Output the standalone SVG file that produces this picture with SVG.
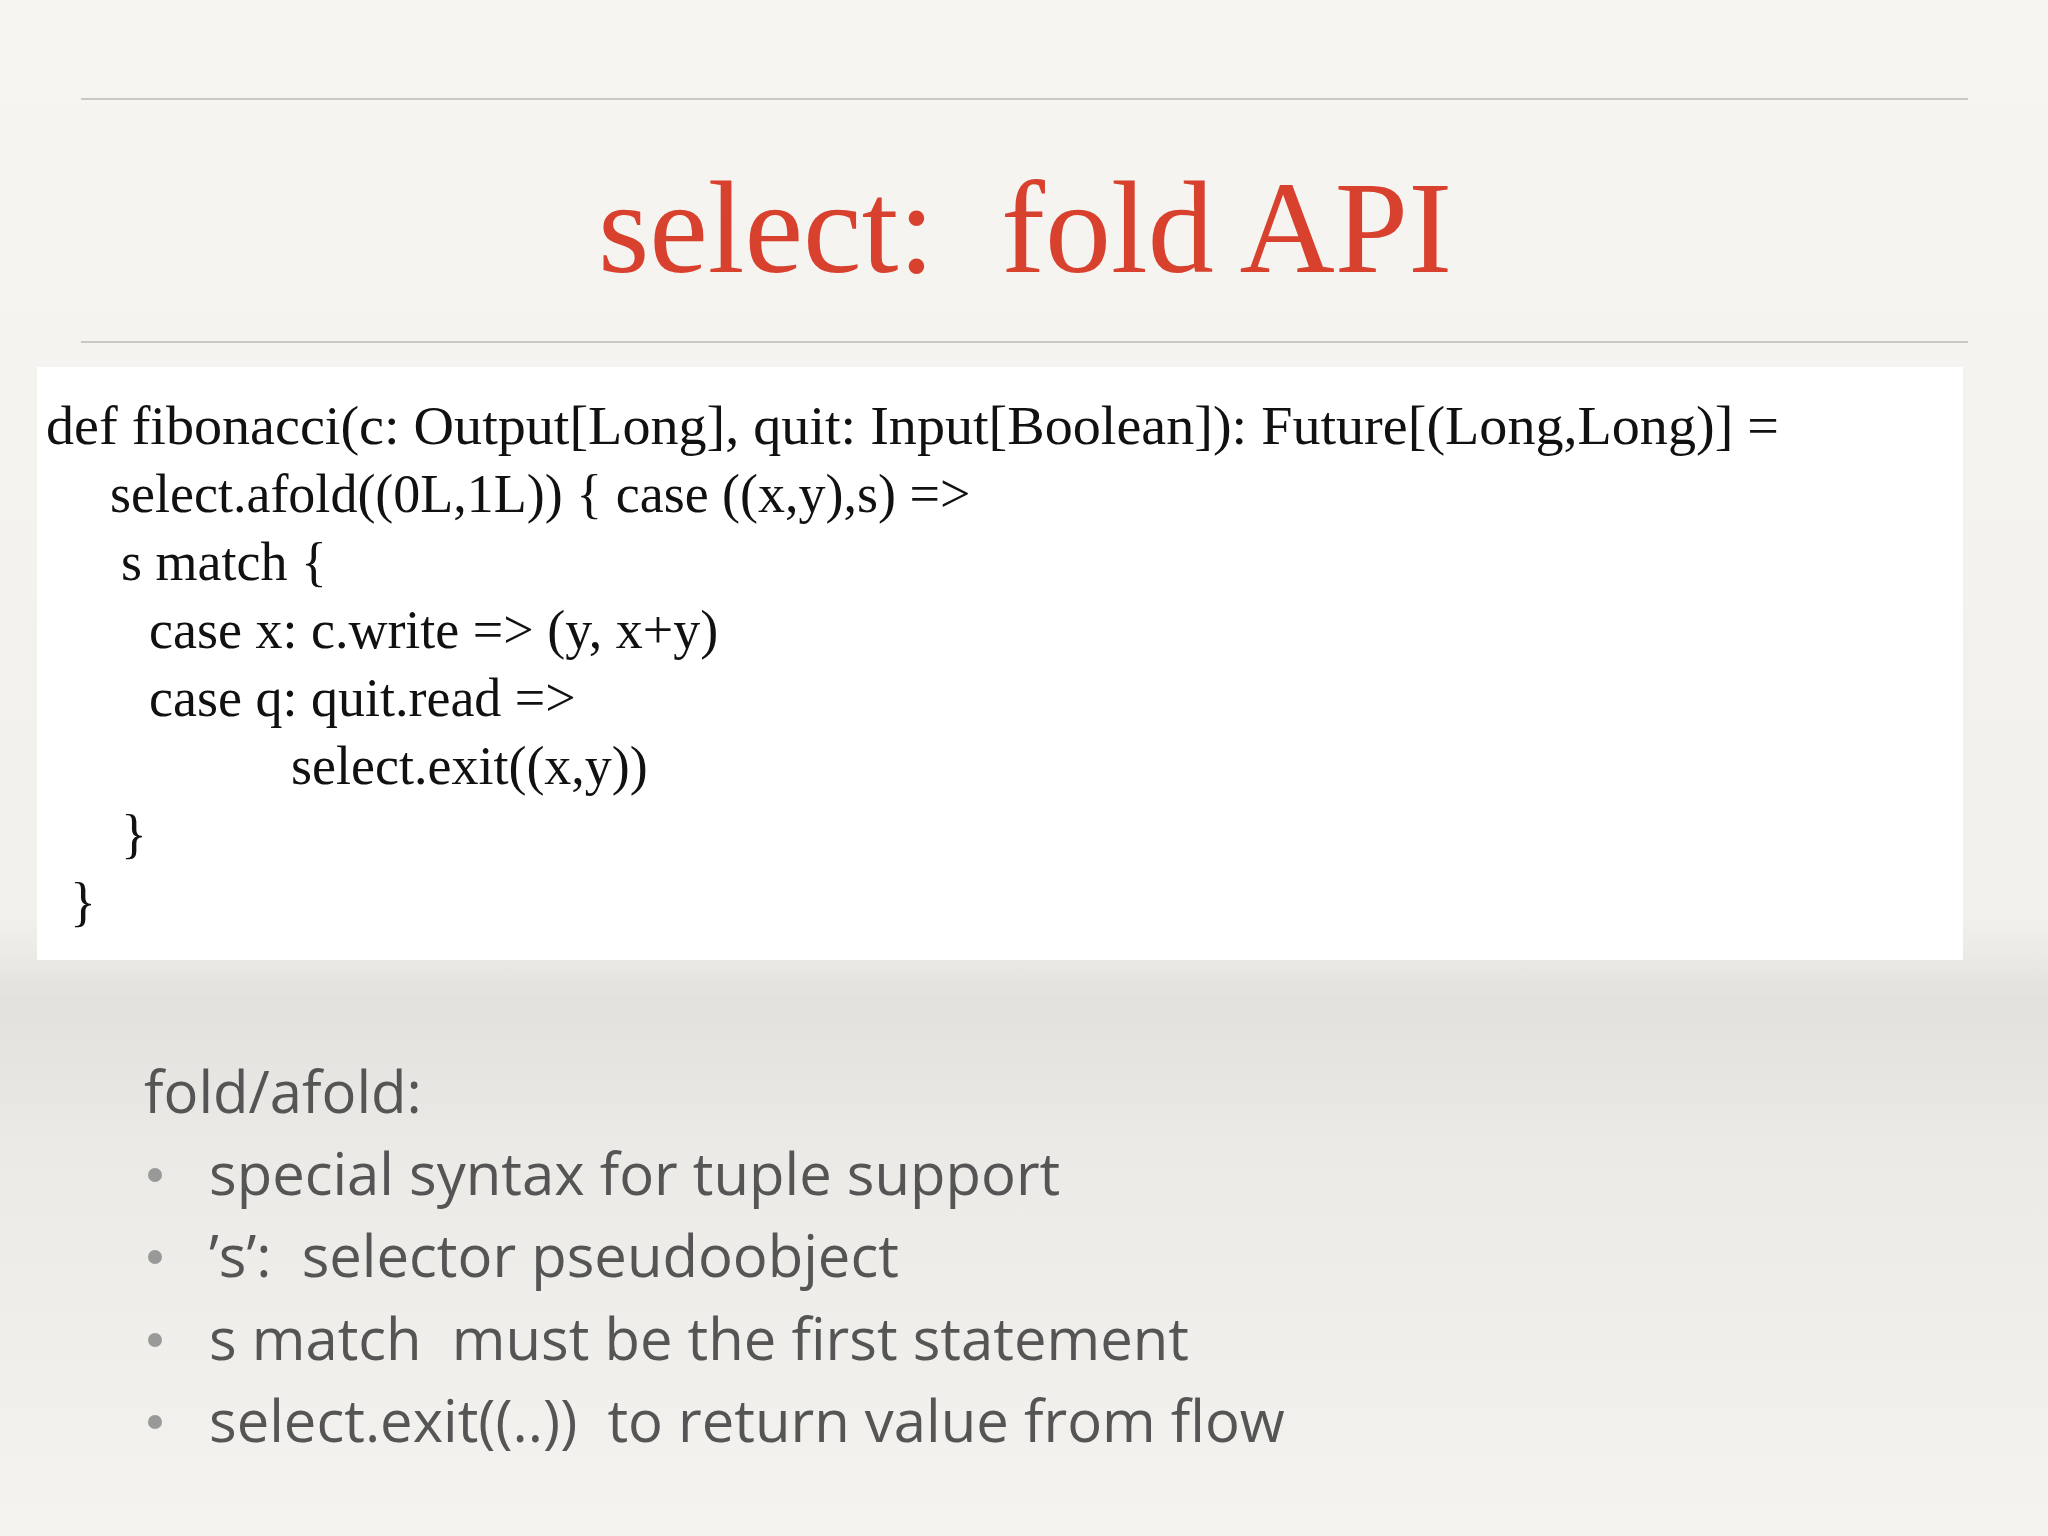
<svg xmlns="http://www.w3.org/2000/svg" width="2048" height="1536" viewBox="0 0 2048 1536">
<defs>
<linearGradient id="bg" x1="0" y1="0" x2="0" y2="1">
<stop offset="0" stop-color="#f6f5f1"/>
<stop offset="0.6" stop-color="#f1f0ec"/>
<stop offset="0.65" stop-color="#e2e1de"/>
<stop offset="0.75" stop-color="#ebeae6"/>
<stop offset="1" stop-color="#f4f3ef"/>
</linearGradient>
<style>
.code{font-family:"Liberation Serif","DejaVu Serif",serif;font-size:54px;fill:#111}
.bul{font-family:"Open Sans","Lato",sans-serif;font-size:58px;fill:#555}
.dot{fill:#999}
</style>
</defs>
<rect width="2048" height="1536" fill="url(#bg)"/>
<line x1="81" y1="99" x2="1968" y2="99" stroke="#c8c8c4" stroke-width="2"/>
<line x1="81" y1="342" x2="1968" y2="342" stroke="#c8c8c4" stroke-width="2"/>
<text x="1025" y="272" text-anchor="middle" font-family="Liberation Serif,serif" font-size="132" fill="#d9412f">select:&#160; fold API</text>
<g id="code">
<rect x="37" y="367" width="1926" height="593" fill="#ffffff"/>
<text class="code" x="46" y="444" textLength="1733" lengthAdjust="spacingAndGlyphs">def fibonacci(c: Output[Long], quit: Input[Boolean]): Future[(Long,Long)] =</text>
<text class="code" x="110" y="512">select.afold((0L,1L)) { case ((x,y),s) =&gt;</text>
<text class="code" x="121" y="580">s match {</text>
<text class="code" x="149" y="648">case x: c.write =&gt; (y, x+y)</text>
<text class="code" x="149" y="716">case q: quit.read =&gt;</text>
<text class="code" x="291" y="784">select.exit((x,y))</text>
<text class="code" x="121" y="852">}</text>
<text class="code" x="70" y="920">}</text>
</g>
<g id="bullets">
<text class="bul" x="144" y="1113">fold/afold:</text>
<circle class="dot" cx="155" cy="1175" r="7"/>
<text class="bul" x="209" y="1195">special syntax for tuple support</text>
<circle class="dot" cx="155" cy="1257" r="7"/>
<text class="bul" x="209" y="1277">’s’:&#160; selector pseudoobject</text>
<circle class="dot" cx="155" cy="1340" r="7"/>
<text class="bul" x="209" y="1360">s match&#160; must be the first statement</text>
<circle class="dot" cx="155" cy="1422" r="7"/>
<text class="bul" x="209" y="1442">select.exit((..))&#160; to return value from flow</text>
</g>
</svg>
